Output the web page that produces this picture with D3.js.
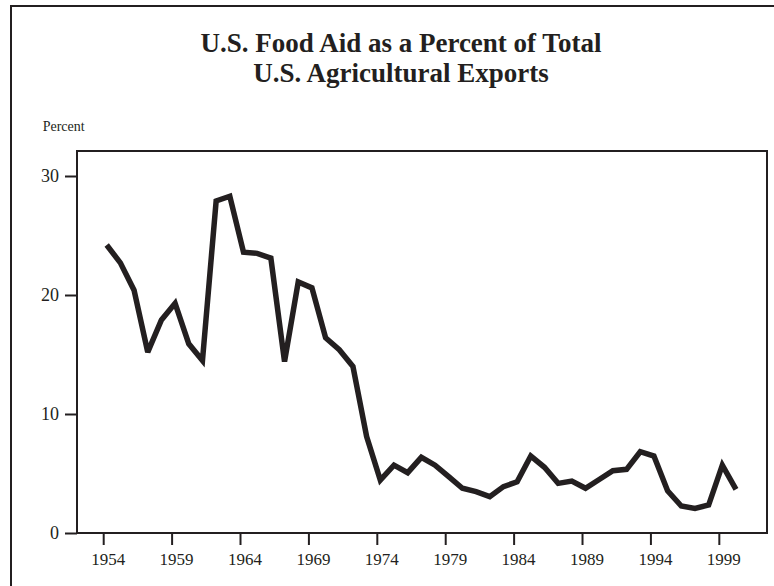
<!DOCTYPE html>
<html>
<head>
<meta charset="utf-8">
<script src="https://d3js.org/d3.v7.min.js"></script>
<style>
  html, body { margin: 0; padding: 0; background: #fff; }
  svg { display: block; }
</style>
</head>
<body>
<svg id="chart" width="774" height="586"></svg>
<script>
const years = d3.range(1954, 2001);
const values = [
  24.2, 22.7, 20.4, 15.2, 17.9, 19.3, 15.9, 14.5, 27.9, 28.3,
  23.6, 23.5, 23.1, 14.4, 21.1, 20.6, 16.4, 15.4, 14.0, 8.1,
  4.45, 5.7, 5.07, 6.36, 5.7, 4.73, 3.76, 3.47, 3.05, 3.9,
  4.3, 6.47, 5.52, 4.17, 4.37, 3.76, 4.5, 5.24, 5.35, 6.83,
  6.47, 3.55, 2.27, 2.07, 2.35, 5.7, 3.67
];
const xTicks = [1954, 1959, 1964, 1969, 1974, 1979, 1984, 1989, 1994, 1999];
const yTicks = [0, 10, 20, 30];
const titleLines = ["U.S. Food Aid as a Percent of Total", "U.S. Agricultural Exports"];
const yLabel = "Percent";

const ink = "#231f20";
const svg = d3.select("#chart");

// outer frame
svg.append("rect")
  .attr("x", 11).attr("y", 6).attr("width", 800).attr("height", 700)
  .attr("fill", "none").attr("stroke", ink).attr("stroke-width", 2);

const box = { left: 77, right: 767, top: 151, bottom: 533 };

const x = d3.scaleLinear().domain([1954, 2000]).range([106.7, 736]);
const y = d3.scaleLinear().domain([0, 30]).range([533, 176]);

// title
svg.append("g").selectAll("text").data(titleLines).join("text")
  .attr("x", 401).attr("y", (d, i) => 52 + i * 30)
  .attr("text-anchor", "middle")
  .attr("font-family", "'Liberation Serif', 'Times New Roman', serif")
  .attr("font-weight", "bold")
  .attr("font-size", 27)
  .attr("fill", ink)
  .text(d => d);

svg.append("text")
  .attr("x", 42.7).attr("y", 131)
  .attr("font-family", "'Liberation Serif', 'Times New Roman', serif")
  .attr("font-size", 14)
  .attr("fill", ink)
  .text(yLabel);

// y axis
const yAxis = d3.axisLeft(y).tickValues(yTicks).tickSize(12).tickPadding(6).tickFormat(d3.format("d"));
const gy = svg.append("g").attr("transform", `translate(${box.left},0)`).call(yAxis);
gy.select(".domain").remove();
gy.selectAll(".tick line").attr("stroke", ink).attr("stroke-width", 2);
gy.selectAll(".tick text")
  .attr("font-family", "'Liberation Serif', 'Times New Roman', serif")
  .attr("font-size", 18).attr("fill", ink);

// x axis
const xAxis = d3.axisBottom(x).tickValues(xTicks).tickSize(12).tickPadding(8).tickFormat(d3.format("d"));
const gx = svg.append("g").attr("transform", `translate(0,${box.bottom})`).call(xAxis);
gx.select(".domain").remove();
gx.selectAll(".tick line").attr("stroke", ink).attr("stroke-width", 2).attr("transform", "translate(-3.5,0)");
gx.selectAll(".tick text")
  .attr("font-family", "'Liberation Serif', 'Times New Roman', serif")
  .attr("font-size", 17).attr("fill", ink).attr("dx", 1);

// plot box
svg.append("rect")
  .attr("x", box.left).attr("y", box.top)
  .attr("width", box.right - box.left).attr("height", box.bottom - box.top)
  .attr("fill", "none").attr("stroke", ink).attr("stroke-width", 2);

// line
const line = d3.line().x((d, i) => x(years[i])).y(d => y(d));
svg.append("path")
  .datum(values)
  .attr("d", line)
  .attr("fill", "none")
  .attr("stroke", ink)
  .attr("stroke-width", 5.5)
  .attr("stroke-linejoin", "miter")
  .attr("stroke-miterlimit", 3);
</script>
</body>
</html>
